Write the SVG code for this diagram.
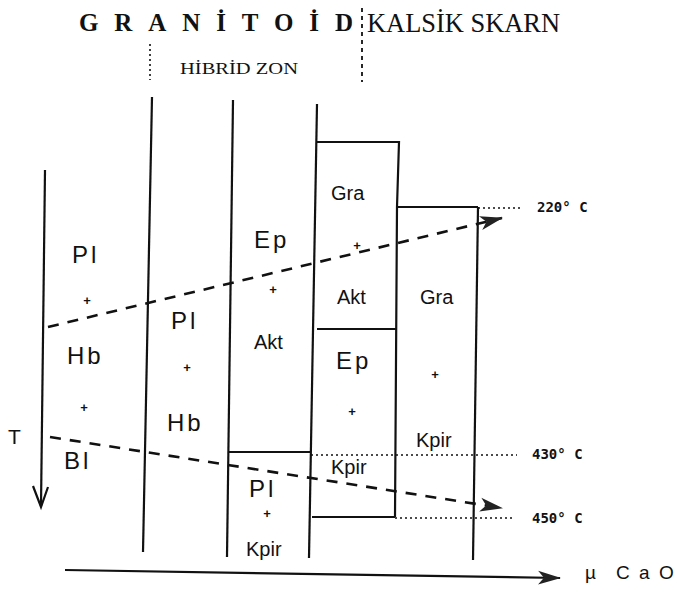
<svg xmlns="http://www.w3.org/2000/svg" width="677" height="595" viewBox="0 0 677 595">
<style>
.ln{stroke:#111;stroke-width:2.2;fill:none}
.dot{stroke:#111;stroke-width:1.6;fill:none;stroke-dasharray:2 3}
.dash{stroke:#111;stroke-width:2.6;fill:none;stroke-dasharray:11 9}
.lbl{font-family:"Liberation Sans",Arial,sans-serif;fill:#111}
.big{font-size:24px;letter-spacing:3px}
.mid{font-size:20px}
.plus{font-family:"Liberation Sans",Arial,sans-serif;font-size:13px;font-weight:bold;fill:#111;text-anchor:middle}
.tmp{font-family:"DejaVu Sans Mono",monospace;font-size:14px;font-weight:bold;fill:#111}
.ser{font-family:"Liberation Serif","Times New Roman",serif;fill:#111}
</style>
<defs>
<marker id="ah2" markerWidth="24" markerHeight="16" refX="22" refY="8" orient="auto" markerUnits="userSpaceOnUse">
<path d="M0,1 L23,8 L0,15 L6,8 Z" fill="#222"/>
</marker>
</defs>
<rect width="677" height="595" fill="#fff"/>
<g id="titles">
<text class="ser" x="79" y="31" font-size="25" font-weight="bold" textLength="274" lengthAdjust="spacing">GRANİTOİD</text>
<text class="ser" x="367" y="32" font-size="27" textLength="193" lengthAdjust="spacingAndGlyphs">KALSİK SKARN</text>
<text class="ser" x="180" y="74" font-size="17" textLength="118" lengthAdjust="spacingAndGlyphs">HİBRİD ZON</text>
<line class="dot" x1="150" y1="44" x2="150" y2="80"/>
<line x1="362" y1="8" x2="362" y2="82" stroke="#111" stroke-width="1.8" stroke-dasharray="4 4"/>
</g>
<g id="columns">
<line class="ln" x1="152" y1="97" x2="143" y2="552"/>
<line class="ln" x1="233" y1="100" x2="227" y2="557"/>
<line class="ln" x1="317" y1="104" x2="309" y2="558"/>
<line class="ln" x1="478" y1="207" x2="473" y2="560"/>
</g>
<g id="boxes">
<polyline class="ln" points="317,142 399,142 397,207 395,517"/>
<line class="ln" x1="317" y1="329" x2="397" y2="329"/>
<line class="ln" x1="312" y1="517" x2="395" y2="517"/>
<line class="ln" x1="397" y1="207" x2="478" y2="207"/>
<line class="ln" x1="228" y1="452" x2="311" y2="452"/>
</g>
<g id="isotherms">
<line class="dot" x1="311" y1="455" x2="517" y2="455"/>
<line class="dot" x1="395" y1="518" x2="515" y2="518"/>
<line class="dot" x1="478" y1="208" x2="520" y2="208"/>
<text class="tmp" x="537" y="212">220° C</text>
<text class="tmp" x="532" y="459">430° C</text>
<text class="tmp" x="532" y="523">450° C</text>
</g>
<g id="connectors">
<line class="dash" x1="48" y1="327" x2="502" y2="218" marker-end="url(#ah2)"/>
<line class="dash" x1="50" y1="437" x2="502" y2="508" marker-end="url(#ah2)"/>
<line class="ln" x1="45" y1="170" x2="41" y2="506"/>
<polyline class="ln" points="33,486 41,507 48,487"/>
<line class="ln" x1="65" y1="570" x2="560" y2="578" marker-end="url(#ah2)"/>
</g>
<g id="axis-labels">
<text class="lbl" x="8" y="444" font-size="21">T</text>
<text class="lbl" y="579" font-size="19"><tspan x="585">µ</tspan><tspan x="616">C</tspan><tspan x="639">a</tspan><tspan x="659">O</tspan></text>
</g>
<g id="col1">
<text class="lbl big" x="72" y="263">Pl</text>
<text class="plus" x="87" y="305">+</text>
<text class="lbl big" x="67" y="364">Hb</text>
<text class="plus" x="84" y="412">+</text>
<text class="lbl big" x="64" y="469">Bl</text>
</g>
<g id="col2">
<text class="lbl big" x="171" y="329">Pl</text>
<text class="plus" x="187" y="372">+</text>
<text class="lbl big" x="167" y="431">Hb</text>
</g>
<g id="col3">
<text class="lbl big" x="254" y="248">Ep</text>
<text class="plus" x="273" y="294">+</text>
<text class="lbl mid" x="254" y="349">Akt</text>
<text class="lbl big" x="249" y="497">Pl</text>
<text class="plus" x="267" y="518">+</text>
<text class="lbl mid" x="246" y="556">Kpir</text>
</g>
<g id="col4">
<text class="lbl mid" x="331" y="200">Gra</text>
<text class="plus" x="357" y="250">+</text>
<text class="lbl mid" x="337" y="304">Akt</text>
<text class="lbl big" x="336" y="369">Ep</text>
<text class="plus" x="352" y="416">+</text>
<text class="lbl mid" x="331" y="474">Kpir</text>
</g>
<g id="col5">
<text class="lbl mid" x="420" y="304">Gra</text>
<text class="plus" x="435" y="379">+</text>
<text class="lbl mid" x="416" y="447">Kpir</text>
</g>
</svg>
